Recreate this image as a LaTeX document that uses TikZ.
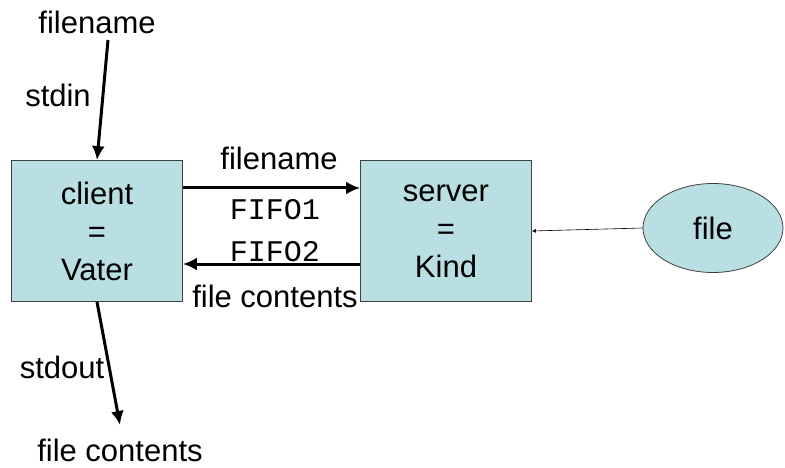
\documentclass[tikz,border=0pt]{standalone}
\usepackage{fontspec}
\setmainfont{Liberation Sans}
\setmonofont{Liberation Mono}
\usetikzlibrary{arrows.meta,shapes.geometric}
\definecolor{boxblue}{HTML}{B9DFE3}
\definecolor{edgegray}{HTML}{404040}

\begin{document}
\begin{tikzpicture}[x=1pt, y=-1pt,
    proc/.style={draw=edgegray, fill=boxblue, line width=0.8pt, minimum width=171pt,
        minimum height=141pt, align=center, font=\fontsize{31}{38}\selectfont},
    lbl/.style={font=\fontsize{31}{36}\selectfont, inner sep=0pt},
    monolbl/.style={font=\ttfamily\fontsize{30}{36}\selectfont, inner sep=0pt},
    pipe/.style={line width=3pt, -{Latex[length=14pt, width=13pt]}},
    thinpipe/.style={line width=0.6pt, -{Latex[length=4pt, width=4pt]}}]
    \useasboundingbox (0,0) rectangle (785,468);

    % Parent and child processes
    \node[proc] (client) at (97,231) {client\\=\\Vater};
    \node[proc] (server) at (446,231) {server\\=\\Kind};

    % The file read by the child
    \node[ellipse, draw=edgegray, fill=boxblue, line width=0.8pt, minimum width=140pt,
        minimum height=89pt, inner sep=0pt, font=\fontsize{31}{36}\selectfont] (file) at (713,228) {file};

    % Standard input at the top
    \node[lbl] (fnin) at (97,22) {filename};
    \node[lbl] (stdin) at (58,95) {stdin};
    \coordinate (instart) at (108,40);
    \draw[pipe] (instart) -- (client.north);

    % The two FIFOs between client and server
    \node[lbl] (fnpipe) at (279,158) {filename};
    \node[monolbl] (fifoone) at (275,210) {FIFO1};
    \node[monolbl] (fifotwo) at (275,252) {FIFO2};
    \node[lbl] (fcpipe) at (275,296) {file contents};
    \draw[pipe] ([yshift=43pt]client.east) -- ([yshift=43pt]server.west);
    \draw[pipe] ([yshift=-33pt]server.west) -- ([yshift=-33pt]client.east);

    % File into the server
    \draw[thinpipe] (file.west) -- (server.east);

    % Standard output at the bottom
    \node[lbl] (stdout) at (62,367) {stdout};
    \node[lbl] (fcout) at (120,450) {file contents};
    \coordinate (outend) at (120,425);
    \draw[pipe] (client.south) -- (outend);
\end{tikzpicture}
\end{document}
